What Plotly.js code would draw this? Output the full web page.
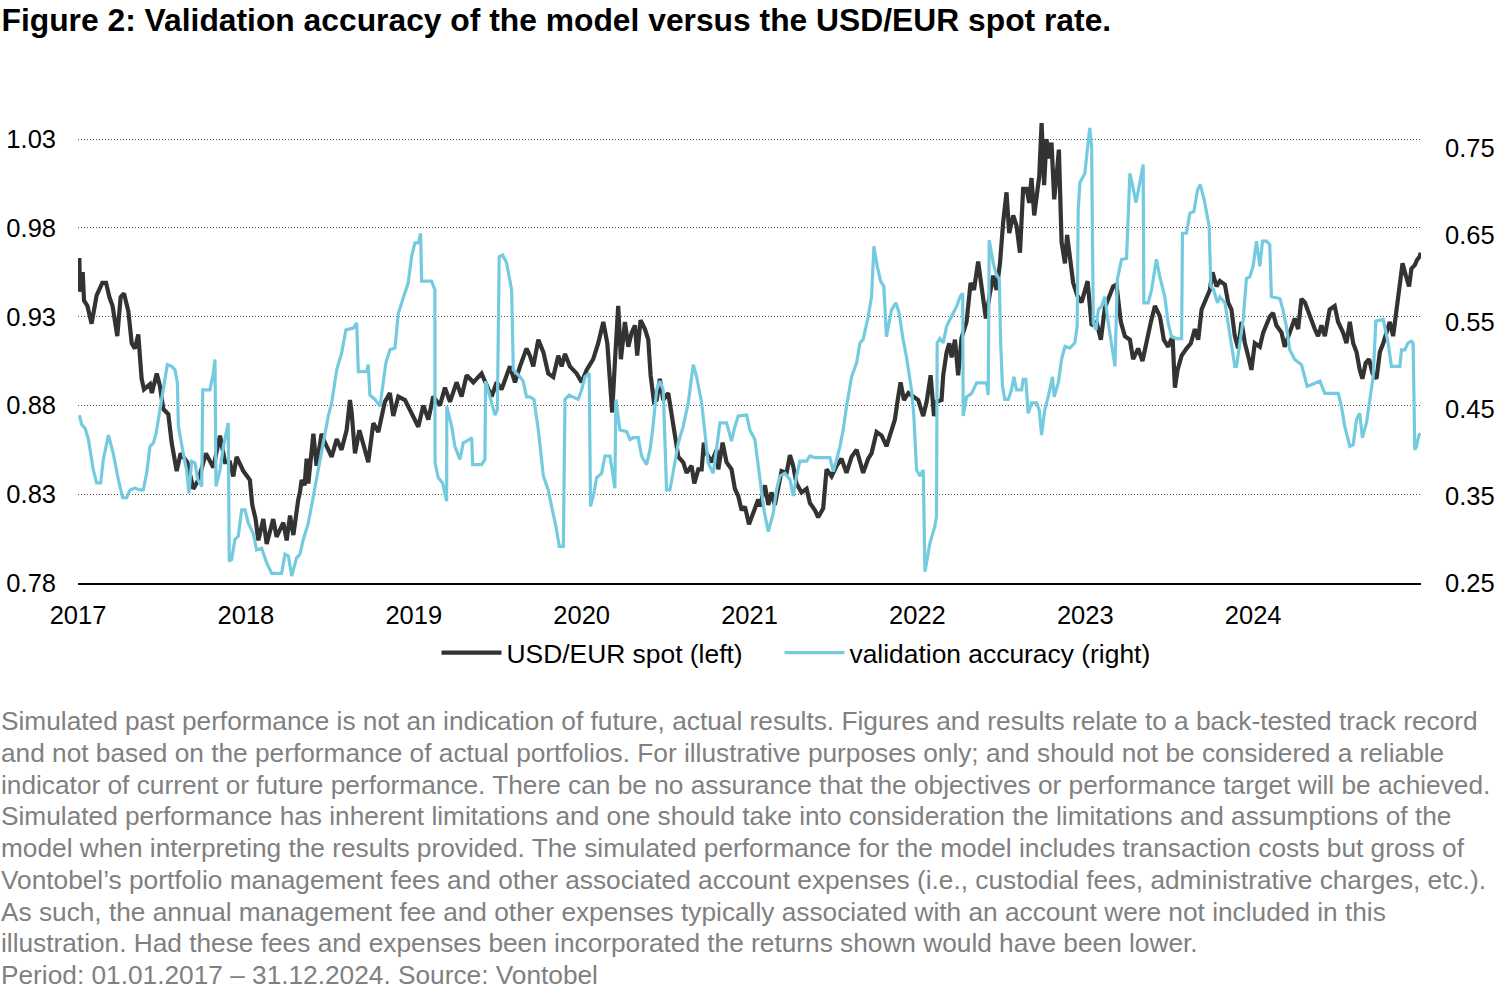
<!DOCTYPE html>
<html>
<head>
<meta charset="utf-8">
<script src="https://cdn.plot.ly/plotly-3.0.1.min.js"></script>
<style>
  html, body { margin: 0; padding: 0; background: #ffffff; }
  #chart { width: 1500px; height: 990px; }
</style>
</head>
<body>
<div id="chart"></div>
<script>
// ---------------- DATA ----------------
// time in fractional years
const spotTime = [
2017.008,2017.012,2017.028,2017.036,2017.056,2017.081,2017.111,2017.145,2017.167,2017.187,
2017.206,2017.234,2017.254,2017.274,2017.300,2017.320,2017.339,2017.359,2017.379,2017.393,
2017.429,2017.440,2017.469,2017.488,2017.508,2017.538,2017.558,2017.588,2017.611,2017.651,
2017.687,2017.717,2017.762,2017.806,2017.846,2017.876,2017.905,2017.925,2017.945,2017.985,
2018.024,2018.038,2018.058,2018.074,2018.104,2018.124,2018.163,2018.183,2018.223,2018.243,
2018.263,2018.283,2018.312,2018.322,2018.332,2018.350,2018.362,2018.372,2018.402,2018.421,
2018.451,2018.471,2018.511,2018.541,2018.570,2018.600,2018.620,2018.630,2018.650,2018.676,
2018.703,2018.729,2018.759,2018.789,2018.828,2018.858,2018.878,2018.908,2018.948,2018.977,
2019.027,2019.057,2019.087,2019.116,2019.156,2019.186,2019.216,2019.255,2019.285,2019.315,
2019.355,2019.404,2019.464,2019.494,2019.523,2019.573,2019.603,2019.633,2019.672,2019.692,
2019.712,2019.742,2019.772,2019.801,2019.831,2019.861,2019.881,2019.901,2019.930,2019.970,
2020.000,2020.030,2020.069,2020.099,2020.129,2020.153,2020.169,2020.182,2020.198,2020.218,
2020.234,2020.258,2020.278,2020.298,2020.318,2020.331,2020.351,2020.377,2020.397,2020.411,
2020.431,2020.447,2020.466,2020.486,2020.516,2020.536,2020.560,2020.576,2020.605,2020.625,
2020.655,2020.671,2020.695,2020.715,2020.728,2020.744,2020.774,2020.804,2020.814,2020.840,
2020.863,2020.893,2020.913,2020.933,2020.953,2020.973,2020.997,2021.022,2021.052,2021.062,
2021.092,2021.112,2021.131,2021.151,2021.171,2021.191,2021.221,2021.241,2021.260,2021.280,
2021.310,2021.340,2021.360,2021.390,2021.409,2021.439,2021.459,2021.489,2021.519,2021.548,
2021.578,2021.608,2021.638,2021.658,2021.677,2021.707,2021.727,2021.757,2021.787,2021.816,
2021.846,2021.866,2021.886,2021.900,2021.920,2021.946,2021.975,2022.005,2022.035,2022.055,
2022.079,2022.099,2022.115,2022.144,2022.154,2022.174,2022.190,2022.204,2022.224,2022.243,
2022.263,2022.293,2022.317,2022.337,2022.362,2022.382,2022.408,2022.432,2022.452,2022.472,
2022.492,2022.511,2022.531,2022.547,2022.571,2022.591,2022.611,2022.630,2022.650,2022.666,
2022.680,2022.696,2022.710,2022.726,2022.740,2022.755,2022.769,2022.785,2022.799,2022.815,
2022.829,2022.843,2022.859,2022.879,2022.892,2022.912,2022.928,2022.952,2022.978,2023.014,
2023.038,2023.067,2023.093,2023.117,2023.143,2023.166,2023.186,2023.212,2023.236,2023.266,
2023.285,2023.315,2023.341,2023.365,2023.391,2023.415,2023.445,2023.468,2023.494,2023.520,
2023.534,2023.550,2023.574,2023.603,2023.629,2023.653,2023.673,2023.693,2023.719,2023.742,
2023.758,2023.782,2023.802,2023.832,2023.851,2023.871,2023.891,2023.911,2023.931,2023.951,
2023.970,2023.990,2024.010,2024.040,2024.060,2024.099,2024.119,2024.139,2024.169,2024.188,
2024.218,2024.248,2024.268,2024.288,2024.308,2024.337,2024.367,2024.387,2024.407,2024.427,
2024.456,2024.486,2024.506,2024.536,2024.556,2024.576,2024.596,2024.616,2024.635,2024.651,
2024.671,2024.691,2024.711,2024.735,2024.755,2024.775,2024.794,2024.814,2024.834,2024.854,
2024.874,2024.890,2024.910,2024.929,2024.943,2024.963,2024.977,2024.993,2024.998
];
const spotValue = [
0.963,0.944,0.955,0.939,0.936,0.926,0.942,0.949,0.949,0.941,
0.936,0.919,0.941,0.943,0.933,0.915,0.912,0.920,0.895,0.889,
0.892,0.887,0.898,0.891,0.878,0.875,0.859,0.843,0.853,0.848,
0.833,0.838,0.853,0.845,0.863,0.848,0.848,0.840,0.851,0.843,
0.838,0.824,0.816,0.804,0.816,0.802,0.816,0.806,0.814,0.804,
0.818,0.807,0.827,0.831,0.838,0.835,0.850,0.836,0.864,0.846,
0.864,0.859,0.851,0.861,0.855,0.866,0.883,0.876,0.853,0.866,
0.857,0.848,0.870,0.865,0.882,0.887,0.874,0.885,0.883,0.877,
0.868,0.880,0.872,0.885,0.880,0.890,0.882,0.893,0.885,0.897,
0.893,0.898,0.885,0.893,0.889,0.902,0.893,0.902,0.912,0.908,
0.902,0.917,0.910,0.898,0.896,0.908,0.902,0.909,0.902,0.898,
0.893,0.900,0.906,0.915,0.927,0.915,0.897,0.876,0.904,0.936,
0.906,0.927,0.913,0.921,0.925,0.908,0.928,0.923,0.917,0.897,
0.882,0.883,0.895,0.883,0.887,0.876,0.861,0.851,0.848,0.842,
0.846,0.836,0.844,0.844,0.859,0.853,0.848,0.855,0.844,0.859,
0.848,0.844,0.833,0.829,0.821,0.823,0.813,0.819,0.827,0.823,
0.835,0.824,0.831,0.824,0.835,0.843,0.842,0.852,0.846,0.836,
0.831,0.833,0.825,0.821,0.817,0.822,0.844,0.840,0.846,0.850,
0.842,0.851,0.855,0.848,0.842,0.850,0.853,0.865,0.863,0.857,
0.866,0.872,0.885,0.893,0.883,0.887,0.885,0.883,0.874,0.882,
0.897,0.874,0.882,0.883,0.897,0.910,0.915,0.907,0.917,0.897,
0.918,0.927,0.949,0.945,0.961,0.947,0.929,0.943,0.953,0.945,
0.960,0.983,1.000,0.977,0.987,0.981,0.966,1.002,1.002,0.994,
1.008,0.987,0.998,1.009,1.039,1.004,1.030,1.019,1.028,0.996,
1.009,1.024,0.972,0.960,0.976,0.960,0.949,0.942,0.938,0.950,
0.925,0.927,0.917,0.935,0.942,0.947,0.948,0.927,0.919,0.917,
0.906,0.912,0.905,0.917,0.927,0.936,0.930,0.917,0.913,0.919,
0.890,0.900,0.908,0.912,0.915,0.923,0.917,0.934,0.940,0.945,
0.955,0.947,0.950,0.948,0.938,0.934,0.919,0.912,0.927,0.915,
0.908,0.900,0.915,0.913,0.921,0.930,0.932,0.925,0.921,0.913,
0.921,0.929,0.923,0.940,0.938,0.930,0.923,0.919,0.925,0.919,
0.934,0.936,0.927,0.921,0.915,0.927,0.915,0.910,0.900,0.895,
0.904,0.906,0.898,0.895,0.910,0.915,0.921,0.927,0.919,0.934,
0.947,0.960,0.953,0.947,0.957,0.959,0.962,0.964,0.966
];

const accTime = [
2017.008,2017.022,2017.042,2017.062,2017.091,2017.111,2017.135,2017.151,2017.181,2017.210,
2017.240,2017.266,2017.290,2017.310,2017.339,2017.369,2017.389,2017.409,2017.429,2017.449,
2017.465,2017.488,2017.508,2017.532,2017.558,2017.578,2017.592,2017.598,2017.627,2017.647,
2017.661,2017.677,2017.697,2017.713,2017.737,2017.743,2017.786,2017.806,2017.816,2017.822,
2017.846,2017.866,2017.895,2017.901,2017.915,2017.935,2017.955,2017.975,2017.995,2018.014,
2018.044,2018.064,2018.094,2018.124,2018.154,2018.213,2018.233,2018.253,2018.273,2018.302,
2018.322,2018.342,2018.372,2018.402,2018.431,2018.461,2018.491,2018.511,2018.541,2018.570,
2018.596,2018.640,2018.660,2018.670,2018.719,2018.729,2018.739,2018.769,2018.799,2018.815,
2018.834,2018.858,2018.888,2018.908,2018.928,2018.948,2018.967,2018.987,2019.007,2019.027,
2019.041,2019.047,2019.106,2019.126,2019.127,2019.146,2019.172,2019.196,2019.197,2019.226,
2019.245,2019.275,2019.295,2019.315,2019.345,2019.351,2019.404,2019.424,2019.428,2019.454,
2019.484,2019.498,2019.509,2019.529,2019.553,2019.583,2019.593,2019.633,2019.652,2019.672,
2019.692,2019.716,2019.742,2019.772,2019.801,2019.821,2019.847,2019.867,2019.891,2019.901,
2019.926,2019.946,2019.980,2020.000,2020.020,2020.045,2020.053,2020.073,2020.089,2020.119,
2020.139,2020.169,2020.185,2020.198,2020.204,2020.228,2020.268,2020.288,2020.308,2020.337,
2020.357,2020.387,2020.407,2020.423,2020.447,2020.466,2020.486,2020.506,2020.526,2020.546,
2020.576,2020.605,2020.635,2020.665,2020.685,2020.715,2020.734,2020.754,2020.784,2020.804,
2020.824,2020.863,2020.893,2020.913,2020.933,2020.983,2021.002,2021.032,2021.062,2021.086,
2021.112,2021.141,2021.161,2021.181,2021.211,2021.241,2021.260,2021.280,2021.300,2021.340,
2021.360,2021.390,2021.479,2021.499,2021.519,2021.539,2021.558,2021.578,2021.608,2021.638,
2021.658,2021.677,2021.707,2021.727,2021.741,2021.761,2021.781,2021.800,2021.816,2021.846,
2021.872,2021.892,2021.912,2021.935,2021.965,2021.979,2021.995,2022.015,2022.035,2022.045,
2022.075,2022.104,2022.114,2022.118,2022.134,2022.154,2022.174,2022.204,2022.234,2022.254,
2022.270,2022.273,2022.293,2022.323,2022.353,2022.412,2022.422,2022.428,2022.452,2022.468,
2022.488,2022.496,2022.507,2022.521,2022.541,2022.561,2022.575,2022.591,2022.621,2022.630,
2022.646,2022.660,2022.680,2022.710,2022.726,2022.740,2022.759,2022.779,2022.805,2022.815,
2022.839,2022.859,2022.879,2022.908,2022.938,2022.952,2022.958,2022.968,2022.998,2023.008,
2023.027,2023.038,2023.044,2023.048,2023.064,2023.078,2023.097,2023.117,2023.137,2023.157,
2023.177,2023.191,2023.216,2023.246,2023.266,2023.281,2023.302,2023.321,2023.345,2023.349,
2023.375,2023.395,2023.424,2023.444,2023.474,2023.494,2023.514,2023.544,2023.574,2023.579,
2023.603,2023.623,2023.647,2023.669,2023.685,2023.709,2023.728,2023.738,2023.748,2023.764,
2023.788,2023.802,2023.832,2023.851,2023.871,2023.891,2023.901,2023.921,2023.941,2023.960,
2023.980,2024.000,2024.020,2024.040,2024.056,2024.080,2024.099,2024.109,2024.159,2024.178,
2024.198,2024.218,2024.248,2024.288,2024.308,2024.322,2024.398,2024.427,2024.507,2024.526,
2024.546,2024.576,2024.596,2024.616,2024.635,2024.651,2024.675,2024.695,2024.715,2024.731,
2024.775,2024.804,2024.824,2024.874,2024.884,2024.903,2024.923,2024.943,2024.953,2024.963,
2024.973,2024.988,2024.998
];
const accValue = [
0.443,0.432,0.428,0.415,0.380,0.365,0.365,0.392,0.420,0.399,
0.369,0.348,0.348,0.357,0.359,0.357,0.357,0.376,0.407,0.411,
0.422,0.449,0.476,0.501,0.499,0.495,0.480,0.430,0.399,0.380,
0.353,0.390,0.388,0.369,0.361,0.472,0.472,0.491,0.507,0.361,
0.380,0.407,0.434,0.275,0.277,0.300,0.304,0.334,0.334,0.319,
0.307,0.288,0.290,0.273,0.261,0.261,0.283,0.281,0.258,0.279,
0.283,0.300,0.319,0.350,0.376,0.411,0.442,0.457,0.495,0.514,
0.541,0.543,0.549,0.493,0.493,0.501,0.466,0.461,0.453,0.476,
0.503,0.518,0.520,0.560,0.572,0.585,0.595,0.625,0.641,0.641,
0.652,0.597,0.597,0.587,0.388,0.371,0.365,0.344,0.453,0.430,
0.407,0.392,0.411,0.413,0.417,0.386,0.386,0.392,0.482,0.464,
0.443,0.449,0.625,0.627,0.618,0.587,0.495,0.487,0.482,0.464,
0.464,0.461,0.426,0.373,0.357,0.338,0.315,0.292,0.292,0.461,
0.466,0.464,0.461,0.472,0.487,0.491,0.338,0.353,0.371,0.376,
0.396,0.396,0.373,0.359,0.461,0.426,0.424,0.415,0.417,0.417,
0.396,0.386,0.403,0.426,0.472,0.482,0.472,0.357,0.357,0.380,
0.411,0.430,0.457,0.501,0.487,0.457,0.426,0.388,0.376,0.403,
0.434,0.434,0.413,0.430,0.442,0.443,0.426,0.415,0.373,0.334,
0.309,0.330,0.357,0.373,0.376,0.369,0.350,0.373,0.390,0.390,
0.396,0.394,0.394,0.378,0.392,0.407,0.426,0.453,0.487,0.503,
0.526,0.530,0.556,0.579,0.637,0.614,0.597,0.591,0.533,0.564,
0.572,0.560,0.533,0.510,0.472,0.442,0.380,0.373,0.380,0.263,
0.296,0.315,0.327,0.526,0.531,0.526,0.545,0.556,0.568,0.579,
0.583,0.442,0.464,0.468,0.480,0.480,0.466,0.644,0.618,0.606,
0.599,0.526,0.476,0.461,0.461,0.472,0.487,0.472,0.472,0.484,
0.484,0.445,0.457,0.457,0.449,0.420,0.449,0.464,0.487,0.464,
0.480,0.507,0.522,0.520,0.526,0.545,0.679,0.710,0.721,0.740,
0.773,0.752,0.633,0.549,0.541,0.564,0.568,0.579,0.549,0.526,
0.499,0.599,0.622,0.623,0.721,0.708,0.687,0.706,0.731,0.572,
0.572,0.587,0.622,0.602,0.579,0.549,0.533,0.531,0.531,0.652,
0.652,0.675,0.677,0.702,0.708,0.690,0.667,0.660,0.591,0.587,
0.572,0.579,0.572,0.549,0.526,0.499,0.499,0.526,0.553,0.600,
0.602,0.614,0.643,0.614,0.643,0.643,0.639,0.579,0.577,0.564,
0.545,0.518,0.507,0.501,0.487,0.476,0.482,0.468,0.468,0.453,
0.430,0.407,0.409,0.438,0.445,0.417,0.434,0.461,0.487,0.551,
0.553,0.526,0.499,0.499,0.518,0.518,0.526,0.528,0.526,0.403,
0.407,0.420,0.422
];

const yearTicks = [2017, 2018, 2019, 2020, 2021, 2022, 2023, 2024];
const yearLabels = ["2017", "2018", "2019", "2020", "2021", "2022", "2023", "2024"];
const leftTicks = [0.78, 0.83, 0.88, 0.93, 0.98, 1.03];
const rightTicks = [0.25, 0.35, 0.45, 0.55, 0.65, 0.75];

const seriesNames = ["USD/EUR spot (left)", "validation accuracy (right)"];
const titleText = "Figure 2: Validation accuracy of the model versus the USD/EUR spot rate.";
const footnoteLines = [
  "Simulated past performance is not an indication of future, actual results. Figures and results relate to a back-tested track record",
  "and not based on the performance of actual portfolios. For illustrative purposes only; and should not be considered a reliable",
  "indicator of current or future performance. There can be no assurance that the objectives or performance target will be achieved.",
  "Simulated performance has inherent limitations and one should take into consideration the limitations and assumptions of the",
  "model when interpreting the results provided. The simulated performance for the model includes transaction costs but gross of",
  "Vontobel\u2019s portfolio management fees and other associated account expenses (i.e., custodial fees, administrative charges, etc.).",
  "As such, the annual management fee and other expenses typically associated with an account were not included in this",
  "illustration. Had these fees and expenses been incorporated the returns shown would have been lower.",
  "Period: 01.01.2017 \u2013 31.12.2024. Source: Vontobel"
];

// ---------------- LAYOUT ----------------
const W = 1500, H = 990;
const PL = 78, PR = 1421, PT = 115, PB = 583;
const plotH = PB - PT, plotW = PR - PL;
// left axis: 0.78 sits at PB, 1.03 at pixel 139
const leftPerPx = 0.25 / (PB - 139);
const leftMax = 0.78 + plotH * leftPerPx;
// right axis: 0.25 at PB, 0.75 at pixel 148
const rightPerPx = 0.5 / (PB - 148);
const rightMax = 0.25 + plotH * rightPerPx;

const pyToPaper = py => (PB - py) / plotH;
const pxToPaper = px => (px - PL) / plotW;

const FONT = "Liberation Sans, Arial, Helvetica, sans-serif";

const traces = [
  {
    x: spotTime, y: spotValue, name: seriesNames[0], type: "scatter", mode: "lines",
    line: { color: "#333333", width: 4.2 }, yaxis: "y", legendwidth: 268
  },
  {
    x: accTime, y: accValue, name: seriesNames[1], type: "scatter", mode: "lines",
    line: { color: "#74CBE0", width: 3.2 }, yaxis: "y2"
  }
];

const footnoteY0 = 721, footnoteStep = 31.75;
const annotations = footnoteLines.map((t, i) => ({
  text: t, xref: "paper", yref: "paper",
  x: pxToPaper(-1), y: pyToPaper(footnoteY0 + i * footnoteStep),
  xanchor: "left", yanchor: "middle", showarrow: false,
  font: { family: FONT, size: 26.25, color: "#808080" }
}));

const layout = {
  width: W, height: H,
  margin: { l: PL, r: W - PR, t: PT, b: H - PB, pad: 0 },
  paper_bgcolor: "#ffffff", plot_bgcolor: "#ffffff",
  font: { family: FONT, color: "#000000" },
  title: {
    text: "<b>" + titleText + "</b>",
    xref: "container", yref: "container", x: 0.001, xanchor: "left",
    y: 1 - 20 / H, yanchor: "middle",
    font: { family: FONT, size: 31.8, color: "#000000" }
  },
  xaxis: {
    type: "linear", range: [2017, 2025],
    tickvals: yearTicks, ticktext: yearLabels,
    showgrid: false, zeroline: false, ticks: "",
    showline: true, linecolor: "#000000", linewidth: 2,
    ticklabelstandoff: 8,
    tickfont: { family: FONT, size: 25.5, color: "#000000" }
  },
  yaxis: {
    range: [0.78, leftMax], tickvals: leftTicks, tickformat: ".2f",
    showgrid: true, gridcolor: "#555555", gridwidth: 1, griddash: "1px,2px",
    zeroline: false, showline: false, ticks: "",
    ticklabelstandoff: 21,
    tickfont: { family: FONT, size: 25.5, color: "#000000" }
  },
  yaxis2: {
    range: [0.25, rightMax], tickvals: rightTicks, tickformat: ".2f",
    overlaying: "y", side: "right",
    showgrid: false, zeroline: false, showline: false, ticks: "",
    ticklabelstandoff: 23,
    tickfont: { family: FONT, size: 25.5, color: "#000000" }
  },
  showlegend: true,
  legend: {
    orientation: "h", xref: "paper", yref: "paper",
    x: pxToPaper(796), xanchor: "center",
    y: pyToPaper(653), yanchor: "middle",
    font: { family: FONT, size: 26.4, color: "#000000" },
    bgcolor: "rgba(0,0,0,0)", itemwidth: 60
  },
  annotations: annotations
};

Plotly.newPlot("chart", traces, layout, { displayModeBar: false, staticPlot: true });
</script>
</body>
</html>
